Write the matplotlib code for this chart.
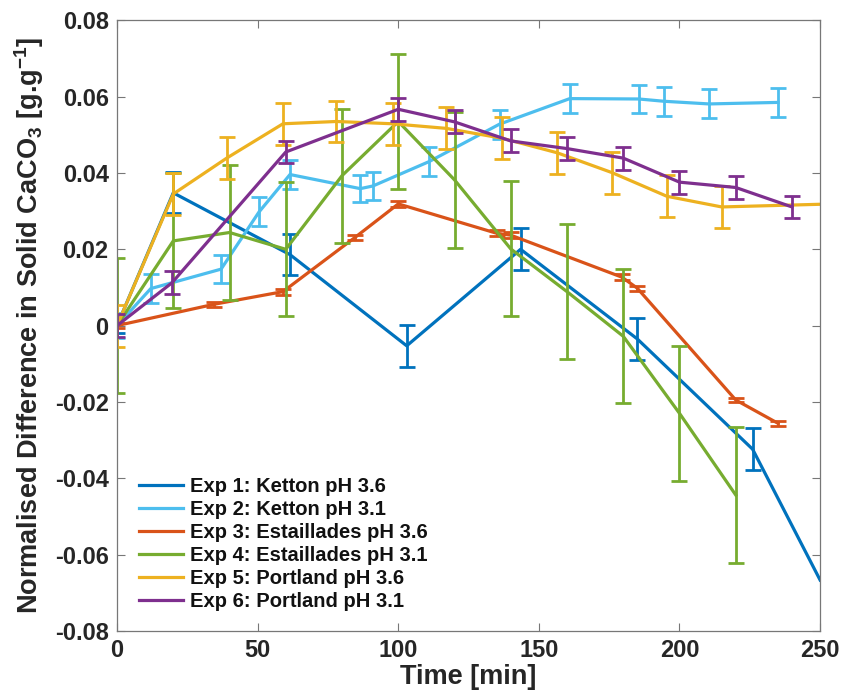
import numpy as np
import matplotlib
matplotlib.use("Agg")
import matplotlib.pyplot as plt

# Time [min] and normalised difference
t1 = [0, 20, 61.5, 103, 143.5, 185, 226, 250]
y1 = [0, 0.0348, 0.0186, -0.0053, 0.0200, -0.0035, -0.0324, -0.0667]
e1 = [0.002, 0.0054, 0.0054, 0.0055, 0.0055, 0.0055, 0.0055, np.nan]

t2 = [0, 12, 37, 50.5, 61.5, 86.5, 91, 111, 136, 161, 185.5, 194.5, 210.5, 235]
y2 = [0, 0.0097, 0.0148, 0.0298, 0.0396, 0.0359, 0.0366, 0.0430, 0.0528,
      0.0595, 0.0594, 0.0588, 0.0581, 0.0585]
e2 = [0.0033, 0.0037, 0.0037, 0.0038, 0.0037, 0.0036, 0.0037, 0.0038, 0.0038,
      0.0037, 0.0037, 0.0038, 0.0038, 0.0037]

t3 = [0, 34.6, 59, 84.6, 100, 135, 140, 179.5, 185, 220, 235]
y3 = [0, 0.0056, 0.0089, 0.0231, 0.0319, 0.0242, 0.0237, 0.0127, 0.0098, -0.0195, -0.0256]
e3 = [0.0007, 0.0006, 0.0008, 0.0007, 0.0008, 0.0008, 0.0008, 0.0007, 0.0007, 0.0006, 0.0006]

t4 = [0, 20, 40, 60, 80, 100, 120, 140, 160, 180, 200, 220]
y4 = [0, 0.0222, 0.0244, 0.0200, 0.0393, 0.0535, 0.0382, 0.0201, 0.0089, -0.0028, -0.0230, -0.0444]
e4 = [0.0176, 0.0177, 0.0177, 0.0176, 0.0176, 0.0177, 0.0179, 0.0177, 0.0177, 0.0176, 0.0177, 0.0177]

t5 = [0, 20, 39, 59, 78, 98, 117, 137, 156.5, 176, 195.5, 215, 250]
y5 = [0, 0.0345, 0.0439, 0.0529, 0.0535, 0.0529, 0.0517, 0.0491, 0.0453, 0.0401,
      0.0339, 0.0311, 0.0318]
e5 = [0.0055, 0.0055, 0.0055, 0.0055, 0.0055, 0.0055, 0.0055, 0.0055, 0.0055,
      0.0055, 0.0055, 0.0055, np.nan]

t6 = [0, 19.5, 60, 100, 120, 140, 160, 180, 200, 220, 240]
y6 = [0, 0.0112, 0.0455, 0.0567, 0.0534, 0.0484, 0.0464, 0.0439, 0.0376, 0.0362, 0.0311]
e6 = [0.003, 0.003, 0.003, 0.003, 0.003, 0.003, 0.003, 0.003, 0.003, 0.003, 0.003]

labels = ["Exp 1: Ketton pH 3.6", "Exp 2: Ketton pH 3.1",
          "Exp 3: Estaillades pH 3.6", "Exp 4: Estaillades pH 3.1",
          "Exp 5: Portland pH 3.6", "Exp 6: Portland pH 3.1"]
colors = ["#0072BD", "#4DBEEE", "#D95319", "#77AC30", "#EDB120", "#7E2F8E"]

yticks = [-0.08, -0.06, -0.04, -0.02, 0, 0.02, 0.04, 0.06, 0.08]
ytick_labels = ["-0.08", "-0.06", "-0.04", "-0.02", "0", "0.02", "0.04", "0.06", "0.08"]
xticks = [0, 50, 100, 150, 200, 250]

plt.rcParams["font.family"] = ["Liberation Sans", "DejaVu Sans"]
plt.rcParams["font.weight"] = "bold"
plt.rcParams["mathtext.fontset"] = "custom"
plt.rcParams["mathtext.bf"] = "Liberation Sans:bold"
plt.rcParams["mathtext.rm"] = "Liberation Sans:bold"
plt.rcParams["mathtext.default"] = "bf"


def plot_series(ax, t, y, e, c, lab):
    t = np.array(t, dtype=float)
    y = np.array(y, dtype=float)
    e = np.array(e, dtype=float)
    ax.plot(t, y, "-", color=c, lw=2.3, label=lab)
    m = np.isfinite(e)
    ax.errorbar(t[m], y[m], yerr=e[m], fmt="none", ecolor=c, elinewidth=2.0,
                capsize=5.8, capthick=2.0)


def main():
    fig = plt.figure(figsize=(8.42, 6.91), dpi=100)
    ax = fig.add_axes([0.139, 0.0871, 0.835, 0.8834])
    series = [(t1, y1, e1), (t2, y2, e2), (t3, y3, e3),
              (t4, y4, e4), (t5, y5, e5), (t6, y6, e6)]
    for (t, y, e), c, lab in zip(series, colors, labels):
        plot_series(ax, t, y, e, c, lab)

    ax.set_xlim(0, 250)
    ax.set_ylim(-0.08, 0.08)
    ax.set_xticks(xticks)
    ax.set_xticklabels([str(v) for v in xticks])
    ax.set_yticks(yticks)
    ax.set_yticklabels(ytick_labels)
    ax.tick_params(direction="in", top=True, right=True, length=6, width=0.8,
                   color="#777777", labelsize=17, labelcolor="#262626", pad=6)
    for s in ax.spines.values():
        s.set_color("#777777")
        s.set_linewidth(0.9)

    ax.set_xlabel("Time [min]", fontsize=19.5, fontweight="bold", color="#262626", labelpad=1)
    ax.set_ylabel(r"Normalised Difference in Solid CaCO$_3$ [g.g$^{-1}$]",
                  fontsize=19.5, fontweight="bold", color="#262626", labelpad=6)

    leg = ax.legend(loc="upper left", bbox_to_anchor=(0.02, 0.265), frameon=False,
                    fontsize=14.5, handlelength=2.2, handletextpad=0.3,
                    labelspacing=0.2, borderaxespad=0)
    for txt in leg.get_texts():
        txt.set_color("#111111")

    fig.savefig("out.png", dpi=100)


if __name__ == "__main__":
    main()
